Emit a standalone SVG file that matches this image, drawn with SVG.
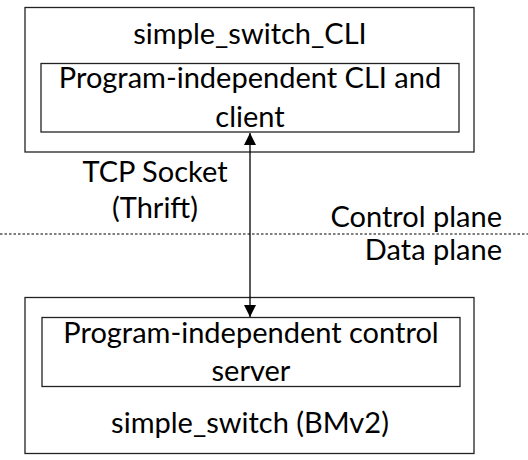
<svg xmlns="http://www.w3.org/2000/svg" width="528" height="460" viewBox="0 0 528 460">
<defs>
<style>
.box{fill:#fff;stroke:#222;stroke-width:1.3}
.t{font-family:Lato,"Open Sans",sans-serif;font-size:29px;fill:#000}
.c{text-anchor:middle}
.r{text-anchor:end}
</style>
<marker id="ah" markerWidth="12" markerHeight="14" refX="12" refY="7" orient="auto-start-reverse" markerUnits="userSpaceOnUse" viewBox="0 0 12 14">
<path d="M0,1 L12,7 L0,13 Z" fill="#000"/>
</marker>
</defs>
<rect width="528" height="460" fill="#fff"/>
<g id="cli">
<rect class="box" x="25" y="7.5" width="449" height="144.5"/>
<text class="t c" x="250" y="44">simple_switch_CLI</text>
</g>
<g id="cli-client">
<rect class="box" x="41" y="63.5" width="418" height="68.5"/>
<text class="t c" x="250" y="88">Program-independent CLI and</text>
<text class="t c" x="250" y="127">client</text>
</g>
<g id="bmv2">
<rect class="box" x="25" y="297.5" width="449" height="156"/>
<text class="t c" x="250" y="433">simple_switch (BMv2)</text>
</g>
<g id="control-server">
<rect class="box" x="42" y="317.5" width="418" height="69"/>
<text class="t c" x="251" y="343">Program-independent control</text>
<text class="t c" x="251" y="381">server</text>
</g>
<g id="connectors">
<line x1="250" y1="133" x2="250" y2="317" stroke="#000" stroke-width="1.3" marker-start="url(#ah)" marker-end="url(#ah)"/>
<line x1="0" y1="234" x2="528" y2="234" stroke="#000" stroke-width="1.2" stroke-dasharray="2.5,2"/>
</g>
<g id="labels">
<text class="t c" x="155" y="182">TCP Socket</text>
<text class="t c" x="155" y="218">(Thrift)</text>
<text class="t r" x="502" y="227">Control plane</text>
<text class="t r" x="502" y="260">Data plane</text>
</g>
</svg>
